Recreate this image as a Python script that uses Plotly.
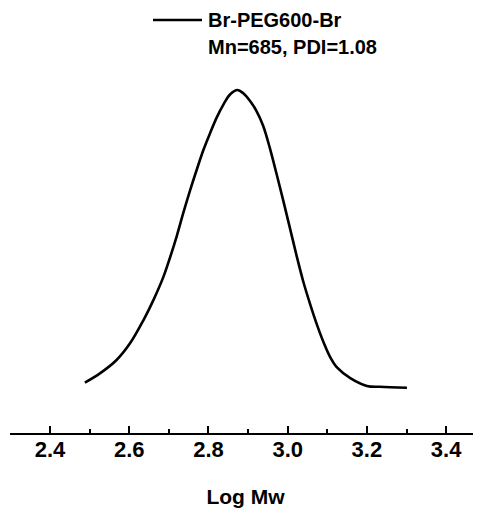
import plotly.graph_objects as go

log_mw = [2.488, 2.526, 2.568, 2.602, 2.636, 2.661, 2.686, 2.703, 2.720, 2.737,
          2.754, 2.771, 2.787, 2.804, 2.821, 2.838, 2.855, 2.873, 2.888, 2.905,
          2.921, 2.938, 2.955, 2.972, 2.989, 3.006, 3.023, 3.040, 3.057, 3.074,
          3.091, 3.108, 3.125, 3.158, 3.200, 3.233, 3.301]
signal = [0.018, 0.049, 0.094, 0.150, 0.228, 0.295, 0.372, 0.438, 0.510, 0.590,
          0.665, 0.735, 0.798, 0.855, 0.908, 0.952, 0.986, 1.000, 0.989, 0.963,
          0.930, 0.880, 0.805, 0.718, 0.628, 0.535, 0.441, 0.354, 0.280, 0.212,
          0.152, 0.102, 0.068, 0.033, 0.007, 0.004, 0.001]
series_name = "Br-PEG600-Br"
series_note = "Mn=685, PDI=1.08"
x_title = "Log Mw"
tick_values = [2.4, 2.6, 2.8, 3.0, 3.2, 3.4]
tick_labels = ["2.4", "2.6", "2.8", "3.0", "3.2", "3.4"]

FONT = "Arial, Liberation Sans, sans-serif"

# page body has an 8px default margin; compensate in figure margins
L, T, B, R = 2, 52, 88, 8
W, H = 481, 513
pw = W - L - R
ph = H - T - B

fig = go.Figure()
fig.add_trace(go.Scatter(x=log_mw, y=signal, mode="lines", name=series_name,
                         line=dict(color="black", width=2.6, shape="spline", smoothing=1.0),
                         showlegend=False))

fig.update_layout(
    width=W, height=H,
    margin=dict(l=L, r=R, t=T, b=B),
    paper_bgcolor="white", plot_bgcolor="white",
    xaxis=dict(range=[2.299, 3.488], showgrid=False, zeroline=False,
               showline=True, linecolor="black", linewidth=2,
               tickmode="array", tickvals=tick_values,
               ticktext=["<b>%s</b>" % t for t in tick_labels],
               ticks="inside", ticklen=7, tickwidth=2, tickcolor="black",
               minor=dict(dtick=0.1, tick0=2.3, ticks="inside", ticklen=4, tickwidth=2, tickcolor="black"),
               tickfont=dict(family=FONT, size=22, color="black", weight="bold"),
               ticklabelstandoff=-4,
               title=dict(text="<b>%s</b>" % x_title,
                          font=dict(family=FONT, size=21, color="black", weight="bold"),
                          standoff=28)),
    yaxis=dict(range=[-0.151, 1.1007], visible=False),
)

def px_x(p):
    return (p - 8 - L) / pw

def px_y(p):
    return (H - B - (p - 8)) / ph

fig.add_shape(type="line", xref="paper", yref="paper",
              x0=px_x(153), x1=px_x(202), y0=px_y(20), y1=px_y(20),
              line=dict(color="black", width=2.6))
fig.add_annotation(xref="paper", yref="paper", x=px_x(206), y=px_y(20),
                   xanchor="left", yanchor="middle", showarrow=False,
                   text="<b>%s</b>" % series_name,
                   font=dict(family=FONT, size=20, color="black", weight="bold"))
fig.add_annotation(xref="paper", yref="paper", x=px_x(206), y=px_y(47),
                   xanchor="left", yanchor="middle", showarrow=False,
                   text="<b>%s</b>" % series_note,
                   font=dict(family=FONT, size=20, color="black", weight="bold"))

fig.write_html("out.html")
